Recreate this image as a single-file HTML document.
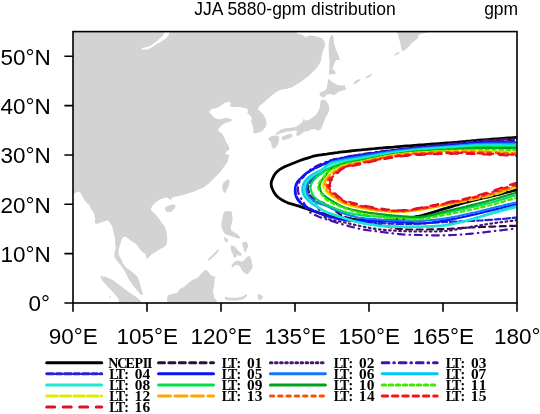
<!DOCTYPE html><html><head><meta charset="utf-8"><style>html,body{margin:0;padding:0;background:#fff;width:540px;height:414px;overflow:hidden}svg{display:block;will-change:transform}</style></head><body><svg width="540" height="414" viewBox="0 0 540 414"><rect width="540" height="414" fill="#fff"/><g clip-path="url(#mapclip)"><clipPath id="mapclip"><rect x="73.00" y="31.60" width="444.00" height="271.40"/></clipPath><path fill="#d3d3d3" d="M70.0 28.0L296.3 28.0L296.3 32.4L298.5 33.9L302.2 34.7L303.7 36.1L305.9 37.6L307.4 36.1L310.4 35.4L314.8 36.1L318.5 36.9L322.2 38.4L324.4 41.3L325.2 45.0L323.7 48.7L322.2 53.2L321.5 57.6L320.7 62.1L318.6 65.5L316.3 68.5L312.8 72.0L308.0 76.4L303.5 79.8L300.2 82.2L292.6 86.9L286.7 89.1L280.7 89.8L276.3 92.0L271.5 95.7L267.0 99.8L262.5 103.5L259.3 106.1L257.8 109.1L260.7 112.0L263.7 115.0L265.9 119.4L266.7 123.9L265.2 127.6L262.2 131.3L257.8 132.8L253.3 133.5L253.3 126.9L251.9 123.9L251.1 120.9L251.9 118.0L249.6 115.0L247.4 113.5L248.1 109.8L245.9 108.3L241.5 107.6L237.0 106.9L231.9 106.9L229.6 106.1L231.1 103.1L228.9 101.7L225.2 102.4L220.7 106.1L216.3 108.3L211.9 109.1L209.6 111.3L208.9 112.0L214.8 118.0L219.3 119.4L225.2 118.0L230.4 118.7L232.6 120.2L229.6 121.7L225.2 123.1L220.7 126.1L217.8 130.3L222.2 133.7L224.4 137.4L225.9 141.9L228.1 144.8L229.6 149.3L225.9 152.2L225.2 153.7L229.6 155.2L228.1 158.9L227.4 162.6L224.4 166.3L220.7 171.5L216.3 175.9L211.9 180.4L207.4 184.8L203.0 187.8L198.9 189.6L193.0 191.9L188.5 193.3L184.1 194.8L178.1 196.3L173.7 197.0L171.5 198.5L170.7 200.0L172.2 201.5L173.7 202.2L169.3 199.3L167.8 197.8L164.8 197.8L160.4 199.3L155.9 202.2L152.2 205.9L150.7 209.6L153.0 211.9L155.9 214.8L158.9 218.5L161.9 223.0L164.6 225.9L166.6 231.9L167.3 237.8L166.9 243.7L164.6 246.7L160.2 248.9L155.7 251.9L152.0 254.1L149.1 257.0L146.9 259.3L145.4 254.1L142.4 251.9L139.4 248.9L138.0 245.9L135.7 243.7L132.0 241.5L129.1 239.3L126.1 237.0L123.1 237.0L121.7 239.3L120.2 244.4L118.7 249.6L118.7 254.8L120.9 258.5L123.0 263.5L126.0 267.4L130.0 270.2L134.0 273.5L137.5 276.5L139.2 281.0L141.2 288.2L143.2 295.2L140.2 294.2L136.2 289.2L132.1 284.2L128.1 278.1L125.1 272.1L122.1 267.1L117.1 261.1L114.3 257.0L114.3 254.1L115.7 248.1L115.0 243.7L115.0 237.8L113.5 231.9L112.0 225.9L110.0 223.3L108.5 220.4L105.6 221.1L101.1 222.6L96.7 224.1L94.4 222.6L95.2 218.9L94.4 214.4L93.0 211.5L90.7 208.5L89.3 204.8L87.0 203.3L84.1 199.6L81.9 195.2L79.6 191.5L76.7 192.2L73.7 193.7L70.0 194.0ZM331.1 35.4L332.6 34.7L333.6 36.9L334.1 42.8L335.6 48.7L338.5 55.4L340.0 59.9L336.3 59.9L334.8 62.1L333.3 66.5L332.2 68.3L334.4 70.6L336.1 73.3L333.3 74.4L331.1 73.9L329.4 75.6L328.9 72.8L329.4 68.3L329.6 62.1L328.9 54.7L328.6 47.3L328.9 41.3L330.1 36.9ZM396.5 28.0L397.2 32.4L398.7 36.9L400.2 42.8L401.7 50.2L403.9 51.0L408.3 47.3L412.0 42.8L415.7 39.9L418.0 38.4L418.7 34.7L423.1 33.2L428.3 32.4L430.0 28.0ZM328.3 78.9L330.0 80.0L333.3 82.8L337.8 85.0L342.2 85.6L344.4 85.0L345.6 87.8L346.7 88.9L344.4 90.0L341.1 91.1L337.8 92.2L335.6 94.4L333.3 95.0L330.0 93.9L326.7 94.4L324.4 97.2L322.2 97.2L320.0 95.6L319.4 93.3L321.7 91.7L325.0 90.6L326.7 88.3L327.2 85.0L327.8 81.1ZM320.6 101.1L322.2 99.4L325.0 100.0L326.7 101.7L328.3 104.0L329.5 108.9L328.2 113.0L325.5 117.5L323.8 122.0L322.5 126.0L320.8 129.5L318.0 130.8L314.7 129.0L311.5 129.6L308.2 130.9L305.0 131.6L302.4 132.9L300.5 134.8L297.9 136.1L295.9 134.8L297.2 131.6L295.3 130.3L292.0 130.9L288.1 131.6L284.3 132.2L280.4 133.5L277.1 134.8L275.2 134.2L277.1 132.2L281.0 129.6L285.6 128.3L290.7 127.7L295.9 127.0L299.2 124.4L302.4 121.9L303.7 118.6L305.0 120.6L308.9 119.9L312.8 117.3L316.0 114.7L318.0 111.5L319.9 107.6L320.0 105.0ZM281.9 137.0L284.8 135.6L289.3 134.1L292.2 134.6L292.8 136.0L291.5 137.2L289.3 138.5L286.3 139.3L283.3 140.2L281.6 139.3ZM268.1 138.7L270.0 136.8L271.9 136.1L275.0 135.6L277.0 135.4L279.0 136.5L279.3 138.5L278.8 141.0L278.2 143.5L276.5 146.8L274.5 148.5L272.8 148.4L271.9 146.8L271.3 143.9L270.5 141.5L269.0 140.3ZM222.2 186.3L223.5 182.5L225.9 180.4L228.5 178.9L229.6 181.5L229.0 185.0L227.5 188.5L224.8 193.3L222.6 190.4ZM164.8 208.1L167.8 205.9L172.2 204.4L175.9 205.2L174.4 208.9L170.7 211.9L166.3 211.9ZM224.0 211.6L227.5 211.0L231.7 211.5L232.4 215.9L232.6 220.0L231.6 224.0L230.8 227.5L231.3 230.4L234.0 232.2L237.5 234.0L240.5 237.4L239.0 238.8L235.0 237.6L231.2 236.2L229.0 235.2L226.0 234.6L224.0 233.0L222.4 229.5L221.3 226.0L221.4 222.5L222.4 219.0L223.0 215.0ZM223.9 237.2L227.2 238.3L228.3 241.7L225.6 242.2L224.4 240.0ZM242.8 242.2L246.7 241.7L248.3 246.1L246.7 249.4L245.6 252.8L243.9 250.6L243.3 247.2L242.2 243.9ZM230.6 245.6L234.4 246.1L237.2 249.4L240.6 252.8L242.2 255.0L240.0 256.1L237.2 255.0L235.6 257.8L233.3 256.7L232.8 253.9L231.1 250.6ZM207.4 259.8L211.9 255.4L217.8 249.4L218.9 248.9L218.5 251.7L213.3 256.9L208.9 260.6ZM231.7 265.0L234.4 261.7L238.3 260.6L241.7 261.7L244.4 260.0L247.2 256.7L249.4 255.6L251.1 258.9L252.2 263.9L252.8 267.2L250.6 270.6L248.9 272.8L247.2 274.4L244.4 272.8L241.7 270.6L240.6 267.2L238.9 265.6L236.1 265.0L233.3 266.7L231.7 268.3ZM166.7 306.0L167.4 295.4L171.9 293.9L177.8 292.4L179.3 289.4L184.4 286.5L189.6 282.0L192.6 279.8L197.0 278.3L199.3 276.1L203.0 271.7L205.9 269.4L208.9 272.4L211.1 275.4L215.6 276.9L214.5 279.5L214.3 284.6L212.8 290.9L214.3 297.6L216.8 300.8L217.0 306.0ZM100.1 276.1L106.1 277.1L113.1 280.2L121.1 286.2L129.1 292.2L135.2 296.2L140.2 300.2L143.0 306.0L120.1 306.0L118.1 298.2L113.1 292.2L107.1 286.2L102.1 280.2ZM225.0 296.5L229.4 297.8L236.9 297.8L242.8 296.5L246.5 294.0L247.0 296.0L243.0 299.5L236.9 300.5L229.4 300.5L225.0 299.5ZM258.3 293.5L260.6 295.0L263.5 296.5L261.3 299.4L258.3 300.2L257.6 296.5Z"/><path fill="#fff" d="M165.2 31.0L163.0 35.4L159.3 39.1L154.8 42.8L150.4 45.8L145.9 47.3L141.5 48.3L142.2 49.5L147.4 49.5L151.9 47.3L156.3 44.3L161.5 41.3L165.9 38.4L168.9 34.7L169.6 31.0Z"/><ellipse cx="397.0" cy="53.8" rx="3.2" ry="0.9" transform="rotate(-30 397.0 53.8)" fill="#d3d3d3"/><ellipse cx="357.2" cy="81.6" rx="4.2" ry="0.9" transform="rotate(-35 357.2 81.6)" fill="#d3d3d3"/><ellipse cx="368.9" cy="76.1" rx="3.8" ry="0.9" transform="rotate(-30 368.9 76.1)" fill="#d3d3d3"/><ellipse cx="356.6" cy="81.1" rx="2.5" ry="0.9" transform="rotate(-35 356.6 81.1)" fill="#d3d3d3"/><ellipse cx="110.1" cy="296.8" rx="0.9" ry="0.9" transform="rotate(0 110.1 296.8)" fill="#d3d3d3"/><path d="M524.0 136.8 521.3 137.0 518.7 137.2 516.0 137.4 513.3 137.6 510.6 137.8 508.0 138.0 505.3 138.2 502.6 138.4 500.0 138.6 497.3 138.8 494.6 139.0 492.0 139.2 489.3 139.4 486.6 139.6 483.9 139.8 481.3 140.0 478.6 140.2 475.9 140.5 473.3 140.7 470.6 141.0 467.9 141.2 465.3 141.5 462.6 141.7 459.9 141.9 457.3 142.2 454.6 142.4 451.9 142.6 449.3 142.8 446.6 143.0 443.9 143.2 441.3 143.4 438.6 143.6 435.9 143.8 433.2 144.0 430.6 144.2 427.9 144.4 425.2 144.6 422.6 144.8 419.9 145.0 417.2 145.2 414.5 145.4 411.9 145.6 409.2 145.8 406.5 146.0 403.9 146.2 401.2 146.4 398.5 146.6 395.9 146.8 393.2 147.1 390.5 147.3 387.9 147.5 385.2 147.7 382.5 148.0 379.9 148.2 377.2 148.4 374.5 148.7 371.8 148.9 369.2 149.1 366.5 149.4 363.8 149.6 361.2 149.9 358.5 150.1 355.9 150.4 353.2 150.7 350.5 151.0 347.9 151.3 345.2 151.6 342.5 151.9 339.9 152.2 337.2 152.6 334.6 152.9 331.9 153.3 329.3 153.7 326.6 154.1 324.0 154.4 321.3 154.8 318.7 155.2 316.0 155.7 313.4 156.2 310.9 157.0 308.3 157.8 305.7 158.6 303.2 159.4 300.7 160.3 298.2 161.3 295.7 162.3 293.2 163.3 290.7 164.3 288.2 165.2 285.8 166.3 283.3 167.4 281.0 168.7 278.8 170.2 276.8 171.9 275.0 174.0 273.6 176.3 272.5 178.7 271.5 181.2 271.1 183.8 271.5 186.5 272.4 189.0 273.5 191.4 274.8 193.7 276.5 195.8 278.5 197.6 280.7 199.1 283.0 200.5 285.4 201.7 287.8 202.8 290.4 203.6 293.0 204.3 295.5 205.1 298.1 205.9 300.6 206.7 303.2 207.6 305.7 208.4 308.2 209.3 310.8 210.1 313.3 211.0 315.9 211.8 318.4 212.6 321.0 213.3 323.6 213.9 326.2 214.6 328.8 215.1 331.4 215.7 334.1 216.3 336.7 216.9 339.3 217.4 341.9 217.9 344.6 218.3 347.2 218.7 349.9 219.0 352.6 219.3 355.2 219.6 357.9 219.8 360.6 220.0 363.2 220.2 365.9 220.4 368.6 220.5 371.3 220.6 373.9 220.6 376.6 220.6 379.3 220.6 382.0 220.6 384.6 220.4 387.3 220.3 390.0 220.1 392.7 219.9 395.3 219.7 398.0 219.4 400.6 219.1 403.3 218.8 406.0 218.4 408.6 218.1 411.3 217.6 413.9 217.2 416.5 216.6 419.1 216.1 421.7 215.5 424.3 214.8 426.9 214.1 429.5 213.4 432.1 212.6 434.6 211.8 437.2 211.0 439.7 210.2 442.3 209.4 444.8 208.6 447.4 207.9 450.0 207.1 452.5 206.3 455.1 205.5 457.7 204.8 460.2 204.0 462.8 203.2 465.4 202.5 467.9 201.8 470.5 201.1 473.1 200.4 475.7 199.8 478.3 199.2 480.9 198.6 483.6 198.0 486.2 197.4 488.8 196.8 491.4 196.2 494.0 195.6 496.6 195.0 499.2 194.3 501.8 193.6 504.4 192.9 507.0 192.2 509.5 191.6 512.1 190.9 514.7 190.3 517.4 189.7 520.0 189.3 522.7 189.0" fill="none" stroke="#000000" stroke-width="2.8" stroke-linejoin="round" stroke-linecap="round"/><path d="M524.0 139.4 521.7 139.6 519.4 139.7 517.1 139.8 514.8 140.0 512.5 140.1 510.2 140.2 507.8 140.3 505.5 140.5 503.2 140.6 500.9 140.7 498.6 140.8 496.3 141.0 494.0 141.1 491.7 141.2 489.4 141.4 487.1 141.5 484.8 141.7 482.5 141.8 480.2 142.0 477.9 142.2 475.6 142.4 473.3 142.5 471.0 142.8 468.7 143.0 466.4 143.2 464.1 143.4 461.8 143.6 459.5 143.9 457.2 144.1 454.8 144.3 452.5 144.5 450.2 144.7 447.9 144.9 445.6 145.2 443.3 145.4 441.0 145.6 438.7 145.8 436.4 146.0 434.1 146.2 431.8 146.4 429.5 146.7 427.2 146.9 424.9 147.1 422.6 147.3 420.3 147.5 418.0 147.8 415.7 148.0 413.4 148.2 411.1 148.5 408.8 148.7 406.5 149.0 404.2 149.2 401.9 149.5 399.7 149.7 397.4 150.0 395.1 150.3 392.8 150.6 390.5 150.9 388.2 151.2 385.9 151.5 383.6 151.8 381.3 152.1 379.0 152.4 376.7 152.7 374.4 153.0 372.2 153.4 369.9 153.7 367.6 154.0 365.3 154.4 363.0 154.7 360.7 155.1 358.4 155.4 356.2 155.8 353.9 156.2 351.6 156.6 349.3 157.0 347.1 157.4 344.8 157.8 342.5 158.3 340.2 158.7 338.0 159.0 335.7 159.3 333.4 159.7 331.2 160.5 329.3 161.8 327.8 163.5 326.6 165.5 325.5 167.5 324.4 169.6 323.1 171.4 321.2 172.9 319.2 174.0 317.4 175.3 315.5 176.7 313.7 178.2 312.1 179.8 310.5 181.5 309.0 183.2 308.0 185.3 307.8 187.6 308.1 189.9 308.7 192.2 309.5 194.3 310.7 196.3 312.4 197.9 314.3 199.2 316.4 200.2 318.5 201.1 320.6 202.0 322.8 202.8 324.9 203.7 327.0 204.8 328.9 206.1 330.7 207.4 332.6 208.9 334.4 210.3 336.2 211.7 338.1 213.0 340.0 214.3 342.0 215.4 344.1 216.4 346.3 217.2 348.5 217.9 350.8 218.4 353.0 219.0 355.3 219.4 357.5 219.9 359.8 220.4 362.0 221.0 364.3 221.5 366.5 222.1 368.8 222.6 371.0 223.1 373.3 223.6 375.5 224.0 377.8 224.5 380.1 225.0 382.3 225.5 384.6 226.0 386.8 226.5 389.1 227.0 391.3 227.5 393.6 228.0 395.9 228.4 398.2 228.8 400.5 229.0 402.8 229.2 405.1 229.4 407.4 229.5 409.7 229.5 412.0 229.5 414.3 229.5 416.6 229.5 418.9 229.5 421.2 229.5 423.6 229.5 425.9 229.5 428.2 229.5 430.5 229.4 432.8 229.4 435.1 229.3 437.4 229.3 439.7 229.2 442.0 229.1 444.3 229.0 446.7 228.9 449.0 228.8 451.3 228.7 453.6 228.5 455.9 228.4 458.2 228.2 460.5 228.1 462.8 227.9 465.1 227.8 467.4 227.6 469.7 227.5 472.0 227.4 474.3 227.3 476.6 227.2 479.0 227.1 481.3 227.0 483.6 226.9 485.9 226.8 488.2 226.7 490.5 226.7 492.8 226.6 495.1 226.5 497.4 226.4 499.7 226.3 502.1 226.2 504.4 226.2 506.7 226.1 509.0 226.0 511.3 225.9 513.6 225.9 515.9 225.8 518.2 225.7 520.5 225.7 522.8 225.7" fill="none" stroke="#2e0c40" stroke-width="2.2" stroke-linejoin="round" stroke-linecap="round" stroke-dasharray="6.0 4.4"/><path d="M524.0 138.8 521.7 139.0 519.3 139.1 517.0 139.2 514.6 139.4 512.3 139.5 510.0 139.6 507.6 139.8 505.3 139.9 503.0 140.0 500.6 140.2 498.3 140.3 495.9 140.4 493.6 140.6 491.3 140.7 488.9 140.9 486.6 141.0 484.2 141.2 481.9 141.4 479.6 141.5 477.2 141.7 474.9 141.9 472.6 142.1 470.2 142.4 467.9 142.6 465.6 142.8 463.2 143.1 460.9 143.3 458.6 143.5 456.3 143.8 453.9 144.0 451.6 144.2 449.3 144.4 446.9 144.7 444.6 144.9 442.3 145.1 439.9 145.3 437.6 145.5 435.3 145.8 432.9 146.0 430.6 146.2 428.3 146.4 425.9 146.7 423.6 146.9 421.3 147.1 418.9 147.4 416.6 147.6 414.3 147.8 412.0 148.1 409.6 148.3 407.3 148.6 405.0 148.8 402.6 149.1 400.3 149.4 398.0 149.6 395.7 149.9 393.3 150.2 391.0 150.5 388.7 150.8 386.4 151.1 384.0 151.4 381.7 151.7 379.4 152.0 377.1 152.3 374.7 152.6 372.4 153.0 370.1 153.3 367.8 153.6 365.5 154.0 363.2 154.3 360.8 154.7 358.5 155.0 356.2 155.4 353.9 155.8 351.6 156.2 349.3 156.6 347.0 157.1 344.7 157.5 342.4 158.0 340.1 158.4 337.8 158.7 335.4 159.0 333.2 159.5 331.0 160.3 329.1 161.7 327.7 163.6 326.5 165.6 325.5 167.7 324.4 169.8 323.1 171.7 321.3 173.2 319.2 174.3 317.3 175.7 315.5 177.1 313.7 178.6 312.0 180.2 310.4 181.9 308.9 183.8 308.3 186.0 308.2 188.3 308.5 190.7 309.0 193.0 309.8 195.2 310.9 197.2 312.2 199.2 313.6 201.0 314.9 202.9 316.2 204.9 317.4 206.9 318.7 208.9 320.0 210.8 321.3 212.8 322.6 214.7 324.1 216.5 326.0 218.0 328.1 219.0 330.3 219.7 332.6 220.3 334.9 220.7 337.2 221.0 339.5 221.4 341.8 221.8 344.1 222.3 346.4 222.9 348.6 223.4 350.9 224.0 353.2 224.5 355.5 225.0 357.8 225.5 360.1 226.0 362.4 226.5 364.7 226.9 367.0 227.4 369.3 227.8 371.6 228.2 373.9 228.6 376.2 229.0 378.5 229.3 380.8 229.6 383.2 229.9 385.5 230.1 387.8 230.3 390.2 230.4 392.5 230.6 394.8 230.7 397.2 230.9 399.5 231.0 401.9 231.1 404.2 231.2 406.5 231.3 408.9 231.3 411.2 231.4 413.6 231.4 415.9 231.5 418.2 231.5 420.6 231.5 422.9 231.5 425.3 231.5 427.6 231.5 430.0 231.5 432.3 231.5 434.6 231.5 437.0 231.5 439.3 231.4 441.7 231.2 444.0 231.1 446.3 230.9 448.7 230.6 451.0 230.3 453.3 229.9 455.6 229.5 457.9 229.1 460.2 228.7 462.5 228.3 464.8 227.9 467.1 227.5 469.5 227.1 471.8 226.7 474.1 226.3 476.4 226.0 478.7 225.6 481.0 225.2 483.3 224.8 485.6 224.4 488.0 224.1 490.3 223.7 492.6 223.4 494.9 223.0 497.2 222.7 499.5 222.4 501.9 222.1 504.2 221.8 506.5 221.5 508.8 221.2 511.2 220.9 513.5 220.7 515.8 220.4 518.2 220.2 520.5 220.0 522.8 219.9" fill="none" stroke="#4a1470" stroke-width="2.2" stroke-linejoin="round" stroke-linecap="round" stroke-dasharray="1.6 3.5"/><path d="M524.0 138.1 521.6 138.2 519.1 138.4 516.7 138.6 514.3 138.7 511.9 138.9 509.4 139.0 507.0 139.2 504.6 139.3 502.1 139.5 499.7 139.6 497.3 139.8 494.9 139.9 492.4 140.1 490.0 140.3 487.6 140.4 485.1 140.6 482.7 140.8 480.3 141.0 477.9 141.2 475.4 141.4 473.0 141.6 470.6 141.9 468.2 142.1 465.7 142.4 463.3 142.6 460.9 142.9 458.5 143.1 456.1 143.4 453.6 143.6 451.2 143.9 448.8 144.1 446.4 144.3 443.9 144.6 441.5 144.8 439.1 145.0 436.7 145.3 434.3 145.5 431.8 145.8 429.4 146.0 427.0 146.2 424.6 146.5 422.1 146.7 419.7 147.0 417.3 147.2 414.9 147.5 412.5 147.7 410.0 148.0 407.6 148.2 405.2 148.5 402.8 148.8 400.4 149.1 397.9 149.3 395.5 149.6 393.1 149.9 390.7 150.2 388.3 150.5 385.9 150.8 383.5 151.2 381.0 151.5 378.6 151.8 376.2 152.1 373.8 152.5 371.4 152.8 369.0 153.1 366.6 153.5 364.2 153.9 361.8 154.2 359.4 154.6 357.0 155.0 354.6 155.4 352.2 155.8 349.8 156.2 347.4 156.7 345.0 157.2 342.6 157.7 340.2 158.2 337.8 158.6 335.5 159.2 333.1 159.7 330.7 160.4 328.4 161.1 326.1 161.9 323.9 162.8 321.6 163.8 319.4 164.8 317.2 165.8 315.0 166.8 312.8 168.0 310.8 169.3 308.9 170.8 307.1 172.4 305.5 174.3 304.0 176.2 302.4 178.1 300.9 180.0 299.5 181.9 298.5 184.1 298.0 186.5 297.9 189.0 298.1 191.4 298.6 193.8 299.5 196.0 300.8 198.0 302.3 200.0 303.5 202.1 304.6 204.2 305.6 206.5 306.5 208.7 307.8 210.8 309.8 212.2 311.9 213.4 314.0 214.6 316.2 215.6 318.4 216.6 320.7 217.5 323.0 218.3 325.3 219.1 327.6 219.8 330.0 220.6 332.3 221.3 334.6 222.0 336.9 222.7 339.3 223.4 341.6 224.1 344.0 224.7 346.3 225.4 348.6 226.1 351.0 226.7 353.3 227.3 355.7 227.9 358.1 228.5 360.4 229.0 362.8 229.4 365.2 229.8 367.7 230.2 370.1 230.5 372.5 230.8 374.9 231.1 377.3 231.4 379.7 231.7 382.1 232.0 384.6 232.3 387.0 232.7 389.4 233.0 391.8 233.3 394.2 233.6 396.6 233.9 399.0 234.1 401.5 234.3 403.9 234.5 406.3 234.6 408.8 234.7 411.2 234.8 413.6 234.8 416.1 234.9 418.5 235.0 420.9 235.0 423.4 235.1 425.8 235.2 428.2 235.2 430.7 235.3 433.1 235.3 435.5 235.3 438.0 235.4 440.4 235.4 442.8 235.3 445.3 235.3 447.7 235.2 450.1 235.1 452.6 235.0 455.0 234.9 457.4 234.7 459.9 234.6 462.3 234.4 464.7 234.2 467.1 234.0 469.6 233.8 472.0 233.6 474.4 233.4 476.8 233.1 479.2 232.9 481.7 232.6 484.1 232.3 486.5 232.0 488.9 231.7 491.3 231.4 493.8 231.1 496.2 230.9 498.6 230.6 501.0 230.3 503.4 230.0 505.8 229.7 508.2 229.4 510.7 229.1 513.1 228.8 515.5 228.5 517.9 228.3 520.4 228.2 522.8 228.0" fill="none" stroke="#4b10a8" stroke-width="2.2" stroke-linejoin="round" stroke-linecap="round" stroke-dasharray="6.7 4.9 0.6 4.9"/><path d="M524.0 141.6 521.6 141.7 519.2 141.7 516.7 141.8 514.3 141.8 511.9 141.9 509.5 141.9 507.0 141.9 504.6 142.0 502.2 142.0 499.8 142.0 497.3 142.1 494.9 142.1 492.5 142.2 490.1 142.2 487.6 142.3 485.2 142.4 482.8 142.5 480.4 142.6 477.9 142.7 475.5 142.9 473.1 143.0 470.7 143.2 468.3 143.5 465.9 143.7 463.4 143.9 461.0 144.1 458.6 144.4 456.2 144.6 453.8 144.8 451.4 145.0 449.0 145.2 446.5 145.4 444.1 145.6 441.7 145.9 439.3 146.1 436.9 146.3 434.5 146.5 432.1 146.7 429.6 147.0 427.2 147.2 424.8 147.4 422.4 147.6 420.0 147.9 417.6 148.1 415.2 148.4 412.7 148.6 410.3 148.9 407.9 149.1 405.5 149.4 403.1 149.6 400.7 149.9 398.3 150.2 395.9 150.5 393.5 150.8 391.1 151.1 388.7 151.4 386.3 151.8 383.9 152.1 381.5 152.4 379.1 152.8 376.7 153.1 374.3 153.4 371.9 153.8 369.5 154.2 367.1 154.5 364.7 154.9 362.3 155.2 359.9 155.6 357.5 156.0 355.1 156.4 352.7 156.8 350.3 157.2 347.9 157.6 345.5 158.0 343.1 158.5 340.8 158.9 338.4 159.4 336.0 159.9 333.6 160.4 331.3 161.1 329.0 161.9 326.8 162.8 324.6 163.9 322.4 165.0 320.3 166.1 318.1 167.1 315.9 168.2 313.7 169.2 311.6 170.3 309.5 171.5 307.5 172.9 305.6 174.4 303.7 176.0 302.0 177.7 300.3 179.5 298.6 181.2 297.3 183.2 296.4 185.4 295.8 187.8 295.6 190.2 295.7 192.6 296.2 195.0 297.1 197.2 298.3 199.3 299.8 201.2 301.5 203.0 303.4 204.5 305.4 205.9 307.4 207.2 309.5 208.4 311.6 209.6 313.8 210.7 315.9 211.8 318.1 212.8 320.3 213.8 322.6 214.8 324.8 215.6 327.2 216.3 329.5 217.0 331.8 217.6 334.2 218.1 336.6 218.6 339.0 219.1 341.3 219.6 343.7 219.9 346.1 220.3 348.5 220.5 351.0 220.8 353.4 221.0 355.8 221.2 358.2 221.4 360.6 221.6 363.0 221.8 365.5 222.0 367.9 222.1 370.3 222.3 372.7 222.5 375.1 222.7 377.5 222.8 380.0 223.0 382.4 223.2 384.8 223.3 387.2 223.5 389.6 223.6 392.1 223.7 394.5 223.8 396.9 223.9 399.3 224.0 401.8 224.0 404.2 224.0 406.6 224.0 409.0 223.9 411.5 223.8 413.9 223.8 416.3 223.7 418.7 223.6 421.1 223.4 423.6 223.3 426.0 223.2 428.4 223.0 430.8 222.9 433.2 222.7 435.7 222.6 438.1 222.4 440.5 222.3 442.9 222.1 445.4 222.0 447.8 221.9 450.2 221.8 452.6 221.7 455.0 221.6 457.5 221.5 459.9 221.4 462.3 221.3 464.7 221.2 467.2 221.1 469.6 221.0 472.0 220.9 474.4 220.8 476.8 220.6 479.3 220.5 481.7 220.4 484.1 220.2 486.5 220.1 488.9 219.9 491.4 219.8 493.8 219.6 496.2 219.4 498.6 219.2 501.0 219.0 503.4 218.8 505.9 218.6 508.3 218.3 510.7 218.1 513.1 217.9 515.5 217.7 517.9 217.6 520.4 217.5 522.8 217.4" fill="none" stroke="#2a22d8" stroke-width="2.2" stroke-linejoin="round" stroke-linecap="round" stroke-dasharray="6.8 2.8 5.4 2.8"/><path d="M524.0 142.7 521.6 142.8 519.1 142.8 516.7 142.8 514.2 142.8 511.8 142.8 509.4 142.8 506.9 142.8 504.5 142.8 502.0 142.8 499.6 142.8 497.1 142.8 494.7 142.8 492.3 142.8 489.8 142.9 487.4 142.9 484.9 142.9 482.5 143.0 480.1 143.1 477.6 143.2 475.2 143.4 472.7 143.5 470.3 143.7 467.9 143.9 465.4 144.2 463.0 144.4 460.6 144.6 458.2 144.8 455.7 145.0 453.3 145.2 450.9 145.4 448.4 145.6 446.0 145.8 443.6 145.9 441.1 146.1 438.7 146.3 436.2 146.5 433.8 146.7 431.4 146.9 428.9 147.1 426.5 147.3 424.1 147.5 421.6 147.7 419.2 147.9 416.8 148.1 414.3 148.3 411.9 148.5 409.5 148.7 407.1 149.0 404.6 149.2 402.2 149.5 399.8 149.7 397.3 150.0 394.9 150.3 392.5 150.6 390.1 150.9 387.7 151.2 385.2 151.5 382.8 151.8 380.4 152.2 378.0 152.5 375.6 152.9 373.1 153.2 370.7 153.6 368.3 153.9 365.9 154.3 363.5 154.7 361.1 155.0 358.7 155.4 356.3 155.8 353.8 156.2 351.4 156.6 349.0 157.0 346.6 157.5 344.2 157.9 341.8 158.4 339.4 158.9 337.1 159.4 334.7 159.9 332.3 160.5 330.0 161.2 327.7 162.1 325.5 163.1 323.3 164.1 321.1 165.2 318.9 166.2 316.6 167.3 314.4 168.3 312.2 169.4 310.1 170.5 308.0 171.9 306.0 173.3 304.1 174.8 302.3 176.5 300.7 178.2 298.9 179.9 297.2 181.7 296.1 183.9 295.4 186.2 295.0 188.6 294.9 191.0 295.1 193.5 295.7 195.8 296.6 198.1 297.9 200.2 299.4 202.1 301.2 203.7 303.2 205.1 305.3 206.4 307.4 207.6 309.5 208.8 311.7 209.8 313.9 210.9 316.2 211.9 318.4 212.8 320.7 213.6 323.0 214.4 325.4 215.1 327.7 215.8 330.1 216.5 332.4 217.2 334.8 217.8 337.1 218.4 339.5 219.0 341.9 219.4 344.3 219.8 346.7 220.1 349.2 220.3 351.6 220.5 354.0 220.6 356.5 220.7 358.9 220.8 361.4 220.9 363.8 220.9 366.2 221.0 368.7 221.1 371.1 221.1 373.6 221.2 376.0 221.2 378.5 221.3 380.9 221.3 383.3 221.4 385.8 221.5 388.2 221.5 390.7 221.6 393.1 221.7 395.5 221.8 398.0 221.9 400.4 222.0 402.8 222.2 405.3 222.4 407.7 222.7 410.1 223.0 412.6 223.2 415.0 223.4 417.4 223.5 419.9 223.5 422.3 223.4 424.8 223.3 427.2 223.0 429.6 222.8 432.0 222.5 434.5 222.1 436.9 221.8 439.3 221.4 441.7 221.0 444.1 220.6 446.5 220.2 448.9 219.8 451.3 219.4 453.7 218.9 456.1 218.5 458.5 218.0 460.9 217.5 463.3 217.0 465.7 216.5 468.1 215.9 470.4 215.4 472.8 214.9 475.2 214.3 477.6 213.8 479.9 213.2 482.3 212.6 484.7 212.0 487.1 211.4 489.4 210.9 491.8 210.3 494.2 209.7 496.5 209.1 498.9 208.5 501.3 208.0 503.7 207.4 506.0 206.8 508.4 206.2 510.8 205.6 513.2 205.1 515.5 204.6 517.9 204.2 520.4 203.8 522.8 203.5" fill="none" stroke="#0a14f5" stroke-width="2.2" stroke-linejoin="round" stroke-linecap="round"/><path d="M524.0 143.5 521.7 143.6 519.4 143.6 517.1 143.6 514.7 143.6 512.4 143.6 510.1 143.6 507.8 143.6 505.5 143.6 503.2 143.6 500.8 143.6 498.5 143.6 496.2 143.6 493.9 143.6 491.6 143.7 489.3 143.7 486.9 143.7 484.6 143.8 482.3 143.8 480.0 143.9 477.7 144.0 475.4 144.1 473.1 144.3 470.7 144.4 468.4 144.6 466.1 144.8 463.8 145.0 461.5 145.2 459.2 145.4 456.9 145.6 454.6 145.8 452.3 146.0 450.0 146.1 447.7 146.3 445.3 146.5 443.0 146.7 440.7 146.8 438.4 147.0 436.1 147.2 433.8 147.4 431.5 147.6 429.2 147.7 426.9 147.9 424.6 148.1 422.3 148.3 419.9 148.5 417.6 148.7 415.3 148.9 413.0 149.1 410.7 149.4 408.4 149.6 406.1 149.8 403.8 150.1 401.5 150.3 399.2 150.6 396.9 150.9 394.6 151.2 392.3 151.5 390.0 151.8 387.7 152.1 385.4 152.5 383.1 152.8 380.9 153.2 378.6 153.6 376.3 153.9 374.0 154.3 371.7 154.7 369.4 155.0 367.1 155.4 364.9 155.8 362.6 156.2 360.3 156.6 358.0 156.9 355.7 157.3 353.4 157.6 351.1 158.0 348.8 158.4 346.6 158.8 344.3 159.2 342.0 159.7 339.7 160.1 337.5 160.5 335.2 161.0 333.0 161.6 330.8 162.5 328.9 163.7 327.2 165.3 325.8 167.1 324.4 169.0 322.8 170.7 321.0 172.1 318.9 173.2 317.0 174.5 315.1 175.7 313.2 177.1 311.5 178.6 309.8 180.3 308.5 182.1 307.4 184.2 306.7 186.4 306.3 188.7 306.4 191.0 307.0 193.3 308.0 195.4 309.4 197.2 311.1 198.7 313.1 200.0 315.0 201.2 317.0 202.4 319.1 203.4 321.3 204.1 323.5 204.8 325.7 205.6 327.8 206.5 329.9 207.4 332.0 208.4 334.1 209.4 336.2 210.4 338.4 211.3 340.5 212.2 342.7 213.0 344.8 213.8 347.0 214.5 349.3 215.2 351.5 215.9 353.7 216.4 356.0 217.0 358.2 217.5 360.5 217.9 362.8 218.2 365.1 218.5 367.4 218.8 369.7 218.9 372.0 219.1 374.3 219.2 376.7 219.4 379.0 219.5 381.3 219.7 383.6 219.8 385.9 220.0 388.2 220.1 390.5 220.2 392.8 220.3 395.2 220.4 397.5 220.5 399.8 220.6 402.1 220.7 404.4 220.8 406.7 220.9 409.0 221.0 411.4 221.0 413.7 221.1 416.0 221.1 418.3 221.1 420.6 221.0 422.9 220.9 425.2 220.7 427.6 220.5 429.9 220.3 432.2 220.1 434.5 219.9 436.8 219.6 439.1 219.3 441.4 219.0 443.7 218.7 446.0 218.4 448.2 218.0 450.5 217.6 452.8 217.2 455.1 216.7 457.3 216.3 459.6 215.8 461.9 215.3 464.1 214.8 466.4 214.3 468.7 213.8 470.9 213.3 473.2 212.8 475.4 212.3 477.7 211.7 479.9 211.2 482.2 210.6 484.4 210.1 486.7 209.5 488.9 209.0 491.2 208.4 493.4 207.9 495.7 207.3 497.9 206.8 500.2 206.2 502.4 205.7 504.7 205.1 506.9 204.6 509.2 204.0 511.4 203.5 513.7 203.0 516.0 202.5 518.3 202.1 520.6 201.8 522.9 201.5" fill="none" stroke="#1478ff" stroke-width="2.2" stroke-linejoin="round" stroke-linecap="round"/><path d="M524.0 144.6 521.6 144.6 519.3 144.6 516.9 144.6 514.5 144.6 512.2 144.6 509.8 144.6 507.4 144.6 505.1 144.6 502.7 144.6 500.4 144.6 498.0 144.6 495.6 144.6 493.3 144.6 490.9 144.6 488.5 144.6 486.2 144.7 483.8 144.7 481.4 144.8 479.1 144.8 476.7 144.9 474.3 145.1 472.0 145.2 469.6 145.3 467.3 145.5 464.9 145.7 462.6 145.9 460.2 146.1 457.8 146.2 455.5 146.4 453.1 146.6 450.8 146.8 448.4 146.9 446.0 147.1 443.7 147.3 441.3 147.4 439.0 147.6 436.6 147.8 434.3 148.0 431.9 148.2 429.5 148.3 427.2 148.5 424.8 148.7 422.5 148.9 420.1 149.1 417.8 149.3 415.4 149.6 413.1 149.8 410.7 150.0 408.3 150.3 406.0 150.5 403.6 150.8 401.3 151.0 398.9 151.3 396.6 151.7 394.3 152.0 391.9 152.3 389.6 152.7 387.2 153.0 384.9 153.4 382.6 153.8 380.3 154.2 377.9 154.6 375.6 155.0 373.3 155.5 370.9 155.9 368.6 156.3 366.3 156.7 364.0 157.1 361.6 157.5 359.3 157.9 357.0 158.3 354.6 158.7 352.3 159.1 350.0 159.4 347.6 159.8 345.3 160.2 343.0 160.7 340.7 161.1 338.3 161.5 336.0 162.0 333.7 162.5 331.4 163.1 329.2 164.1 327.2 165.3 325.4 166.8 323.5 168.2 321.6 169.6 319.5 170.7 317.3 171.7 315.3 172.8 313.2 174.0 311.3 175.3 309.4 176.7 307.5 178.2 305.9 179.9 304.5 181.8 303.4 183.9 302.7 186.2 302.3 188.5 302.4 190.9 303.0 193.2 303.9 195.3 305.3 197.3 306.8 199.1 308.4 200.8 310.2 202.4 312.1 203.8 314.0 205.1 316.0 206.4 318.1 207.6 320.1 208.7 322.2 209.9 324.3 210.9 326.5 211.9 328.7 212.8 330.9 213.6 333.1 214.4 335.4 215.1 337.6 215.8 339.9 216.6 342.1 217.3 344.4 218.0 346.6 218.7 348.9 219.4 351.2 220.0 353.4 220.7 355.7 221.3 358.0 221.8 360.3 222.4 362.6 222.9 365.0 223.3 367.3 223.8 369.6 224.2 371.9 224.5 374.3 224.9 376.6 225.2 379.0 225.5 381.3 225.7 383.7 225.9 386.0 226.1 388.4 226.2 390.8 226.3 393.1 226.3 395.5 226.4 397.9 226.5 400.2 226.5 402.6 226.6 405.0 226.6 407.3 226.7 409.7 226.7 412.0 226.7 414.4 226.7 416.8 226.7 419.1 226.6 421.5 226.6 423.9 226.5 426.2 226.4 428.6 226.3 431.0 226.2 433.3 226.1 435.7 225.9 438.0 225.8 440.4 225.5 442.7 225.3 445.1 225.0 447.4 224.6 449.8 224.2 452.1 223.8 454.4 223.3 456.7 222.8 459.0 222.3 461.3 221.7 463.6 221.1 465.9 220.6 468.2 220.0 470.5 219.4 472.8 218.8 475.0 218.1 477.3 217.4 479.6 216.8 481.8 216.1 484.1 215.4 486.3 214.7 488.6 214.0 490.9 213.3 493.1 212.6 495.4 211.9 497.6 211.2 499.9 210.5 502.2 209.9 504.4 209.2 506.7 208.5 509.0 207.9 511.3 207.2 513.5 206.6 515.8 206.0 518.2 205.6 520.5 205.2 522.8 204.8" fill="none" stroke="#00c8f5" stroke-width="2.2" stroke-linejoin="round" stroke-linecap="round"/><path d="M524.0 145.6 521.7 145.6 519.3 145.6 517.0 145.6 514.6 145.6 512.3 145.6 509.9 145.5 507.6 145.5 505.2 145.5 502.9 145.5 500.5 145.4 498.2 145.4 495.8 145.4 493.5 145.4 491.1 145.4 488.8 145.4 486.5 145.4 484.1 145.4 481.8 145.5 479.4 145.5 477.1 145.6 474.7 145.7 472.4 145.8 470.0 146.0 467.7 146.1 465.4 146.3 463.0 146.5 460.7 146.6 458.3 146.8 456.0 147.0 453.7 147.1 451.3 147.3 449.0 147.5 446.6 147.6 444.3 147.8 442.0 148.0 439.6 148.2 437.3 148.3 434.9 148.5 432.6 148.7 430.3 148.9 427.9 149.1 425.6 149.2 423.2 149.4 420.9 149.6 418.6 149.8 416.2 150.1 413.9 150.3 411.6 150.5 409.2 150.8 406.9 151.0 404.6 151.3 402.2 151.5 399.9 151.8 397.6 152.1 395.2 152.5 392.9 152.8 390.6 153.2 388.3 153.5 386.0 153.9 383.7 154.3 381.4 154.7 379.0 155.1 376.7 155.6 374.4 156.0 372.1 156.4 369.8 156.9 367.5 157.3 365.2 157.7 362.9 158.1 360.6 158.5 358.3 158.9 355.9 159.2 353.6 159.6 351.3 159.9 349.0 160.3 346.7 160.6 344.3 161.0 342.0 161.5 339.7 161.9 337.4 162.4 335.1 162.8 332.9 163.4 330.7 164.2 328.6 165.3 326.7 166.6 324.8 168.1 323.0 169.6 321.0 170.9 319.0 171.9 316.9 173.1 314.9 174.3 313.0 175.7 311.2 177.2 309.3 178.6 307.7 180.3 306.3 182.2 305.3 184.3 304.4 186.5 304.0 188.8 304.2 191.1 304.8 193.4 305.8 195.5 307.2 197.4 308.7 199.2 310.4 200.9 312.2 202.4 314.0 203.8 315.9 205.2 317.7 206.7 319.6 208.1 321.5 209.4 323.5 210.8 325.5 211.9 327.6 212.9 329.8 213.7 332.0 214.5 334.3 215.2 336.5 215.9 338.8 216.6 341.0 217.3 343.3 217.9 345.5 218.6 347.7 219.4 350.0 220.1 352.2 220.7 354.5 221.4 356.7 222.0 359.0 222.6 361.3 223.1 363.6 223.6 365.9 224.0 368.2 224.4 370.5 224.8 372.8 225.2 375.2 225.5 377.5 225.8 379.8 226.1 382.2 226.3 384.5 226.5 386.8 226.6 389.2 226.7 391.5 226.8 393.9 226.9 396.2 226.9 398.6 227.0 400.9 227.0 403.3 227.1 405.6 227.1 408.0 227.2 410.3 227.2 412.7 227.2 415.0 227.2 417.3 227.2 419.7 227.1 422.0 227.0 424.4 227.0 426.7 226.9 429.1 226.8 431.4 226.7 433.8 226.6 436.1 226.5 438.4 226.3 440.8 226.1 443.1 225.8 445.4 225.5 447.8 225.2 450.1 224.8 452.4 224.3 454.7 223.8 457.0 223.3 459.2 222.7 461.5 222.2 463.8 221.6 466.1 221.0 468.3 220.4 470.6 219.8 472.9 219.2 475.1 218.6 477.4 218.0 479.6 217.3 481.9 216.6 484.1 216.0 486.4 215.3 488.6 214.6 490.9 214.0 493.1 213.3 495.4 212.7 497.7 212.1 499.9 211.5 502.2 210.9 504.5 210.3 506.7 209.7 509.0 209.1 511.3 208.5 513.6 208.0 515.9 207.5 518.2 207.1 520.5 206.8 522.8 206.5" fill="none" stroke="#1ee8d2" stroke-width="2.2" stroke-linejoin="round" stroke-linecap="round"/><path d="M524.0 147.2 521.7 147.2 519.5 147.2 517.2 147.2 514.9 147.2 512.7 147.2 510.4 147.1 508.1 147.1 505.9 147.1 503.6 147.0 501.3 147.0 499.1 147.0 496.8 146.9 494.6 146.9 492.3 146.9 490.0 146.9 487.8 146.9 485.5 146.9 483.2 146.9 481.0 147.0 478.7 147.0 476.4 147.1 474.2 147.2 471.9 147.4 469.6 147.5 467.4 147.7 465.1 147.9 462.9 148.1 460.6 148.2 458.4 148.4 456.1 148.6 453.8 148.7 451.6 148.9 449.3 149.0 447.1 149.2 444.8 149.3 442.5 149.5 440.3 149.6 438.0 149.7 435.8 149.9 433.5 150.0 431.2 150.2 429.0 150.3 426.7 150.5 424.5 150.7 422.2 150.8 419.9 151.0 417.7 151.2 415.4 151.4 413.2 151.6 410.9 151.8 408.7 152.0 406.4 152.3 404.1 152.5 401.9 152.8 399.7 153.0 397.4 153.4 395.2 153.7 392.9 154.0 390.7 154.4 388.5 154.8 386.2 155.1 384.0 155.5 381.8 156.0 379.5 156.4 377.3 156.8 375.1 157.2 372.9 157.7 370.6 158.1 368.4 158.6 366.2 159.0 364.0 159.4 361.8 159.9 359.5 160.3 357.3 160.7 355.1 161.1 352.8 161.4 350.6 161.8 348.4 162.2 346.1 162.6 343.9 163.1 341.7 163.7 339.5 164.2 337.4 164.9 335.2 165.5 333.1 166.3 331.0 167.1 329.0 168.2 327.1 169.4 325.2 170.8 323.5 172.2 321.7 173.5 319.7 174.7 317.9 176.0 316.2 177.5 314.6 179.1 313.1 180.9 311.8 182.7 311.0 184.8 310.5 187.0 310.7 189.3 311.3 191.4 312.1 193.6 313.2 195.6 314.6 197.3 316.3 198.8 318.1 200.2 319.8 201.6 321.8 202.7 323.9 203.6 326.0 204.5 328.1 205.4 330.1 206.3 332.2 207.2 334.3 208.1 336.4 209.0 338.5 209.8 340.6 210.6 342.8 211.3 345.0 211.9 347.1 212.5 349.3 213.0 351.6 213.5 353.8 214.0 356.0 214.4 358.2 214.7 360.5 215.1 362.7 215.3 365.0 215.6 367.2 215.8 369.5 215.9 371.8 216.0 374.0 216.2 376.3 216.3 378.6 216.4 380.8 216.5 383.1 216.7 385.3 216.8 387.6 216.9 389.9 217.1 392.1 217.2 394.4 217.3 396.6 217.4 398.9 217.5 401.2 217.6 403.4 217.7 405.7 217.8 408.0 218.0 410.2 218.1 412.5 218.2 414.7 218.2 417.0 218.2 419.3 218.0 421.5 217.8 423.8 217.5 426.0 217.2 428.2 216.8 430.5 216.3 432.7 215.8 434.9 215.3 437.1 214.8 439.3 214.3 441.5 213.8 443.7 213.3 445.9 212.8 448.1 212.3 450.4 211.9 452.6 211.4 454.8 210.9 457.0 210.4 459.2 209.9 461.4 209.4 463.6 208.9 465.8 208.4 468.0 207.9 470.3 207.4 472.5 206.9 474.7 206.4 476.9 205.9 479.1 205.4 481.3 204.9 483.5 204.4 485.7 203.9 487.9 203.3 490.1 202.8 492.3 202.2 494.5 201.6 496.7 201.0 498.8 200.4 501.0 199.7 503.2 199.1 505.3 198.4 507.5 197.7 509.7 197.0 511.8 196.3 514.0 195.7 516.2 195.2 518.4 194.7 520.6 194.3 522.9 194.0" fill="none" stroke="#00e050" stroke-width="2.2" stroke-linejoin="round" stroke-linecap="round"/><path d="M524.0 148.4 521.8 148.3 519.6 148.3 517.5 148.3 515.3 148.3 513.1 148.3 510.9 148.2 508.8 148.2 506.6 148.2 504.4 148.1 502.2 148.1 500.1 148.1 497.9 148.0 495.7 148.0 493.5 148.0 491.4 148.0 489.2 147.9 487.0 147.9 484.8 147.9 482.7 148.0 480.5 148.0 478.3 148.0 476.1 148.1 474.0 148.2 471.8 148.3 469.6 148.4 467.4 148.5 465.3 148.7 463.1 148.8 460.9 148.9 458.8 149.1 456.6 149.2 454.4 149.4 452.2 149.5 450.1 149.6 447.9 149.7 445.7 149.9 443.5 150.0 441.4 150.1 439.2 150.3 437.0 150.4 434.9 150.5 432.7 150.7 430.5 150.8 428.3 150.9 426.2 151.1 424.0 151.2 421.8 151.4 419.7 151.6 417.5 151.7 415.3 151.9 413.2 152.1 411.0 152.3 408.8 152.5 406.7 152.7 404.5 153.0 402.3 153.2 400.2 153.5 398.0 153.8 395.9 154.1 393.7 154.4 391.6 154.7 389.4 155.1 387.3 155.5 385.1 155.8 383.0 156.2 380.9 156.6 378.7 157.0 376.6 157.5 374.4 157.9 372.3 158.3 370.2 158.7 368.0 159.2 365.9 159.6 363.8 160.0 361.6 160.5 359.5 160.9 357.4 161.3 355.2 161.7 353.1 162.1 351.0 162.5 348.8 162.9 346.7 163.4 344.6 163.9 342.5 164.5 340.4 165.1 338.3 165.8 336.3 166.5 334.2 167.3 332.3 168.2 330.4 169.3 328.8 170.7 327.5 172.5 326.3 174.3 325.1 176.1 323.7 177.8 322.3 179.4 321.1 181.2 320.1 183.2 319.6 185.3 319.7 187.5 320.2 189.6 321.0 191.6 322.1 193.5 323.6 195.1 325.3 196.4 327.1 197.7 328.9 198.9 330.7 200.1 332.6 201.3 334.4 202.4 336.3 203.4 338.2 204.5 340.2 205.5 342.1 206.4 344.1 207.2 346.2 208.0 348.3 208.6 350.4 209.2 352.5 209.7 354.6 210.2 356.7 210.6 358.9 211.1 361.0 211.5 363.1 211.9 365.3 212.2 367.4 212.6 369.6 212.9 371.8 213.1 373.9 213.4 376.1 213.6 378.2 213.9 380.4 214.1 382.6 214.4 384.7 214.6 386.9 214.9 389.0 215.1 391.2 215.3 393.4 215.5 395.5 215.7 397.7 215.8 399.9 216.0 402.1 216.2 404.2 216.3 406.4 216.5 408.6 216.7 410.7 216.8 412.9 216.9 415.1 217.0 417.3 217.0 419.4 216.8 421.6 216.6 423.8 216.3 425.9 216.0 428.0 215.6 430.2 215.1 432.3 214.6 434.4 214.1 436.5 213.6 438.6 213.0 440.7 212.5 442.8 212.0 445.0 211.5 447.1 211.0 449.2 210.5 451.3 210.0 453.4 209.5 455.6 209.0 457.7 208.5 459.8 208.0 461.9 207.5 464.0 207.0 466.1 206.5 468.2 205.9 470.4 205.4 472.5 204.9 474.6 204.4 476.7 203.8 478.8 203.3 480.9 202.7 483.0 202.2 485.1 201.7 487.2 201.1 489.3 200.5 491.4 200.0 493.5 199.4 495.6 198.8 497.7 198.2 499.8 197.6 501.9 197.0 504.0 196.3 506.0 195.7 508.1 195.0 510.2 194.4 512.3 193.8 514.4 193.2 516.5 192.7 518.6 192.3 520.8 191.9 522.9 191.6" fill="none" stroke="#00a020" stroke-width="2.2" stroke-linejoin="round" stroke-linecap="round"/><path d="M524.0 150.4 521.8 150.4 519.6 150.3 517.4 150.3 515.3 150.3 513.1 150.3 510.9 150.2 508.7 150.2 506.5 150.2 504.3 150.1 502.1 150.1 500.0 150.1 497.8 150.0 495.6 150.0 493.4 150.0 491.2 150.0 489.0 149.9 486.8 149.9 484.7 149.9 482.5 149.9 480.3 149.9 478.1 149.9 475.9 149.9 473.7 149.9 471.5 149.9 469.4 150.0 467.2 150.0 465.0 150.0 462.8 150.1 460.6 150.2 458.4 150.2 456.2 150.3 454.1 150.4 451.9 150.5 449.7 150.6 447.5 150.7 445.3 150.8 443.1 150.9 441.0 151.0 438.8 151.1 436.6 151.2 434.4 151.3 432.2 151.4 430.0 151.5 427.9 151.6 425.7 151.7 423.5 151.9 421.3 152.0 419.1 152.2 417.0 152.3 414.8 152.5 412.6 152.6 410.4 152.8 408.2 153.0 406.1 153.2 403.9 153.5 401.7 153.7 399.5 154.0 397.4 154.3 395.2 154.6 393.1 154.9 390.9 155.2 388.7 155.6 386.6 156.0 384.4 156.4 382.3 156.8 380.1 157.2 378.0 157.6 375.9 158.1 373.7 158.5 371.6 159.0 369.4 159.4 367.3 159.9 365.2 160.3 363.0 160.8 360.9 161.2 358.7 161.6 356.6 162.1 354.4 162.5 352.3 162.9 350.2 163.3 348.0 163.7 345.9 164.2 343.8 164.8 341.7 165.4 339.6 166.1 337.5 166.8 335.5 167.6 333.5 168.5 331.5 169.5 329.7 170.6 328.0 172.0 326.4 173.5 325.0 175.2 323.7 176.9 322.4 178.7 321.1 180.4 319.6 182.1 318.6 184.0 318.2 186.1 318.4 188.3 319.1 190.4 320.2 192.2 321.6 194.0 322.9 195.7 324.1 197.5 325.6 199.1 327.3 200.4 329.2 201.5 331.2 202.5 333.1 203.5 335.1 204.4 337.1 205.2 339.2 206.1 341.2 206.9 343.2 207.7 345.3 208.4 347.3 209.2 349.4 209.9 351.5 210.6 353.6 211.2 355.7 211.8 357.8 212.4 359.9 213.0 362.0 213.5 364.1 214.0 366.3 214.5 368.4 215.0 370.5 215.4 372.7 215.8 374.8 216.2 377.0 216.5 379.2 216.9 381.3 217.2 383.5 217.4 385.7 217.7 387.8 217.9 390.0 218.0 392.2 218.2 394.4 218.4 396.6 218.5 398.7 218.6 400.9 218.8 403.1 218.9 405.3 219.1 407.5 219.3 409.6 219.4 411.8 219.6 414.0 219.6 416.2 219.6 418.4 219.6 420.6 219.4 422.7 219.2 424.9 218.9 427.1 218.6 429.2 218.2 431.3 217.7 433.5 217.3 435.6 216.8 437.8 216.3 439.9 215.9 442.0 215.4 444.2 215.0 446.3 214.6 448.5 214.2 450.6 213.8 452.8 213.4 454.9 213.0 457.1 212.6 459.2 212.2 461.4 211.7 463.5 211.3 465.6 210.9 467.8 210.5 469.9 210.0 472.1 209.5 474.2 209.1 476.3 208.6 478.5 208.1 480.6 207.6 482.7 207.1 484.8 206.6 487.0 206.1 489.1 205.5 491.2 205.0 493.3 204.4 495.4 203.9 497.5 203.3 499.6 202.7 501.7 202.1 503.8 201.5 505.9 200.8 508.0 200.2 510.1 199.6 512.2 199.0 514.3 198.4 516.5 197.9 518.6 197.5 520.8 197.1 522.9 196.8" fill="none" stroke="#40e800" stroke-width="2.2" stroke-linejoin="round" stroke-linecap="round" stroke-dasharray="3.6 3.4"/><path d="M524.0 152.4 521.9 152.4 519.8 152.3 517.6 152.2 515.5 152.2 513.4 152.1 511.3 152.1 509.1 152.0 507.0 151.9 504.9 151.9 502.8 151.8 500.6 151.7 498.5 151.7 496.4 151.6 494.3 151.6 492.1 151.5 490.0 151.4 487.9 151.4 485.8 151.3 483.6 151.3 481.5 151.2 479.4 151.2 477.3 151.1 475.1 151.1 473.0 151.0 470.9 151.0 468.8 151.0 466.6 150.9 464.5 150.9 462.4 150.9 460.3 150.9 458.1 151.0 456.0 151.0 453.9 151.1 451.8 151.1 449.6 151.2 447.5 151.2 445.4 151.3 443.3 151.4 441.2 151.4 439.0 151.5 436.9 151.6 434.8 151.7 432.7 151.8 430.5 151.9 428.4 152.0 426.3 152.1 424.2 152.2 422.0 152.3 419.9 152.5 417.8 152.6 415.7 152.7 413.6 152.9 411.4 153.0 409.3 153.2 407.2 153.4 405.1 153.6 403.0 153.9 400.9 154.1 398.8 154.4 396.7 154.7 394.6 155.0 392.5 155.3 390.4 155.6 388.3 156.0 386.2 156.4 384.1 156.8 382.0 157.2 379.9 157.6 377.8 158.1 375.8 158.5 373.7 159.0 371.6 159.4 369.5 159.9 367.5 160.3 365.4 160.8 363.3 161.3 361.2 161.7 359.2 162.2 357.1 162.6 355.0 163.0 352.9 163.4 350.8 163.8 348.7 164.2 346.7 164.7 344.7 165.3 342.7 166.1 340.7 167.0 338.9 168.0 337.0 169.1 335.2 170.2 333.5 171.4 331.8 172.7 330.1 174.0 328.5 175.4 327.1 177.0 325.8 178.7 324.6 180.4 323.7 182.3 323.2 184.4 323.4 186.5 324.0 188.5 324.9 190.5 326.4 192.0 327.9 193.4 329.6 194.8 331.3 196.0 333.1 197.2 334.8 198.4 336.6 199.6 338.4 200.7 340.3 201.7 342.2 202.7 344.1 203.6 346.1 204.4 348.1 205.1 350.1 205.7 352.2 206.2 354.2 206.7 356.3 207.2 358.4 207.6 360.5 208.1 362.5 208.5 364.6 208.9 366.7 209.3 368.8 209.6 370.9 209.9 373.0 210.2 375.1 210.5 377.3 210.7 379.4 210.9 381.5 211.1 383.6 211.3 385.7 211.5 387.8 211.7 390.0 211.8 392.1 211.9 394.2 212.0 396.3 212.0 398.4 212.0 400.6 212.0 402.7 211.9 404.8 211.8 406.9 211.6 409.1 211.4 411.2 211.2 413.3 210.9 415.4 210.6 417.5 210.4 419.6 210.1 421.7 209.7 423.8 209.4 425.9 209.0 428.0 208.7 430.1 208.3 432.1 207.9 434.2 207.5 436.3 207.0 438.4 206.6 440.5 206.2 442.6 205.8 444.7 205.4 446.7 205.0 448.8 204.5 450.9 204.1 453.0 203.7 455.1 203.3 457.2 202.9 459.2 202.5 461.3 202.0 463.4 201.6 465.5 201.2 467.6 200.7 469.6 200.3 471.7 199.8 473.8 199.4 475.9 199.0 478.0 198.5 480.0 198.1 482.1 197.6 484.2 197.2 486.3 196.7 488.3 196.2 490.4 195.7 492.4 195.2 494.5 194.6 496.5 194.0 498.6 193.4 500.6 192.7 502.6 192.1 504.6 191.3 506.6 190.6 508.6 189.9 510.6 189.2 512.6 188.5 514.6 187.9 516.7 187.3 518.8 186.9 520.9 186.5 523.0 186.1" fill="none" stroke="#d8f000" stroke-width="2.2" stroke-linejoin="round" stroke-linecap="round" stroke-dasharray="10.4 3.2"/><path d="M524.0 153.3 521.9 153.2 519.8 153.1 517.7 153.1 515.6 153.0 513.5 152.9 511.3 152.8 509.2 152.7 507.1 152.7 505.0 152.6 502.9 152.5 500.8 152.4 498.7 152.3 496.6 152.2 494.5 152.2 492.4 152.1 490.3 152.0 488.2 151.9 486.0 151.9 483.9 151.8 481.8 151.7 479.7 151.7 477.6 151.6 475.5 151.6 473.4 151.5 471.3 151.5 469.2 151.4 467.1 151.4 464.9 151.3 462.8 151.3 460.7 151.4 458.6 151.4 456.5 151.4 454.4 151.5 452.3 151.5 450.2 151.5 448.1 151.6 446.0 151.6 443.9 151.7 441.7 151.8 439.6 151.8 437.5 151.9 435.4 152.0 433.3 152.0 431.2 152.1 429.1 152.2 427.0 152.3 424.9 152.4 422.8 152.5 420.7 152.6 418.6 152.8 416.4 152.9 414.3 153.1 412.2 153.2 410.1 153.4 408.0 153.6 405.9 153.7 403.8 154.0 401.7 154.2 399.6 154.4 397.5 154.7 395.5 155.0 393.4 155.4 391.3 155.7 389.2 156.1 387.1 156.4 385.1 156.8 383.0 157.2 380.9 157.7 378.9 158.1 376.8 158.6 374.7 159.0 372.7 159.5 370.6 159.9 368.6 160.4 366.5 160.9 364.5 161.4 362.4 161.8 360.3 162.3 358.3 162.8 356.2 163.2 354.2 163.6 352.1 164.0 350.0 164.5 348.0 165.0 345.9 165.6 343.9 166.3 342.0 167.1 340.1 168.1 338.3 169.1 336.5 170.3 334.8 171.5 333.1 172.8 331.5 174.1 329.9 175.4 328.4 176.9 327.0 178.5 325.8 180.3 325.0 182.2 324.6 184.3 324.8 186.3 325.5 188.3 326.6 190.2 328.0 191.7 329.6 193.2 331.2 194.5 332.8 195.8 334.5 197.1 336.2 198.3 338.0 199.5 339.8 200.6 341.6 201.7 343.5 202.6 345.4 203.4 347.4 204.2 349.4 204.8 351.5 205.4 353.5 205.9 355.6 206.3 357.6 206.8 359.7 207.2 361.7 207.7 363.8 208.1 365.9 208.5 368.0 208.9 370.1 209.2 372.1 209.5 374.2 209.8 376.3 210.1 378.4 210.3 380.5 210.6 382.6 210.8 384.7 211.0 386.8 211.1 388.9 211.3 391.0 211.4 393.1 211.5 395.2 211.6 397.4 211.6 399.5 211.6 401.6 211.5 403.7 211.4 405.8 211.3 407.9 211.1 410.0 210.9 412.1 210.6 414.2 210.3 416.3 210.0 418.3 209.7 420.4 209.4 422.5 209.1 424.6 208.8 426.7 208.4 428.8 208.0 430.8 207.6 432.9 207.2 435.0 206.8 437.0 206.4 439.1 206.0 441.2 205.6 443.2 205.2 445.3 204.7 447.4 204.3 449.5 203.9 451.5 203.5 453.6 203.1 455.7 202.6 457.7 202.2 459.8 201.7 461.8 201.3 463.9 200.9 466.0 200.4 468.0 199.9 470.1 199.5 472.1 199.0 474.2 198.6 476.3 198.1 478.3 197.6 480.4 197.2 482.4 196.7 484.5 196.2 486.5 195.7 488.6 195.2 490.6 194.7 492.7 194.1 494.7 193.6 496.7 193.0 498.7 192.3 500.7 191.7 502.7 191.0 504.7 190.3 506.7 189.6 508.7 188.9 510.7 188.2 512.7 187.5 514.7 186.9 516.7 186.3 518.8 185.9 520.9 185.5 523.0 185.1" fill="none" stroke="#ffa500" stroke-width="2.2" stroke-linejoin="round" stroke-linecap="round" stroke-dasharray="12.0 4.5"/><path d="M524.0 154.1 521.9 154.0 519.8 154.0 517.7 153.9 515.6 153.8 513.5 153.7 511.5 153.6 509.4 153.5 507.3 153.4 505.2 153.3 503.1 153.2 501.0 153.1 498.9 153.0 496.8 152.9 494.7 152.8 492.6 152.8 490.5 152.7 488.5 152.6 486.4 152.5 484.3 152.4 482.2 152.4 480.1 152.3 478.0 152.2 475.9 152.2 473.8 152.1 471.7 152.1 469.6 152.0 467.5 152.0 465.4 151.9 463.3 151.9 461.3 151.9 459.2 152.0 457.1 152.0 455.0 152.0 452.9 152.1 450.8 152.1 448.7 152.2 446.6 152.2 444.5 152.3 442.4 152.3 440.3 152.4 438.2 152.5 436.1 152.5 434.1 152.6 432.0 152.7 429.9 152.8 427.8 152.9 425.7 153.0 423.6 153.1 421.5 153.2 419.4 153.3 417.3 153.4 415.2 153.6 413.2 153.7 411.1 153.9 409.0 154.1 406.9 154.3 404.8 154.5 402.7 154.7 400.7 154.9 398.6 155.2 396.5 155.5 394.4 155.8 392.4 156.1 390.3 156.5 388.2 156.8 386.2 157.2 384.1 157.6 382.1 158.0 380.0 158.4 378.0 158.8 375.9 159.3 373.9 159.7 371.8 160.2 369.8 160.7 367.8 161.1 365.7 161.6 363.7 162.1 361.6 162.5 359.6 163.0 357.6 163.4 355.5 163.8 353.4 164.2 351.4 164.7 349.3 165.1 347.3 165.6 345.3 166.2 343.4 167.0 341.5 167.9 339.7 169.0 338.0 170.2 336.3 171.5 334.8 172.8 333.2 174.2 331.6 175.6 330.1 177.0 328.6 178.6 327.5 180.3 326.7 182.2 326.4 184.3 326.6 186.4 327.3 188.3 328.4 190.1 329.8 191.7 331.3 193.1 332.8 194.5 334.4 195.8 336.1 197.1 337.8 198.4 339.5 199.6 341.3 200.7 343.1 201.7 345.0 202.5 347.0 203.2 349.0 203.9 351.0 204.4 353.0 204.9 355.1 205.4 357.1 205.9 359.2 206.3 361.2 206.8 363.3 207.2 365.3 207.6 367.4 208.0 369.4 208.3 371.5 208.7 373.6 209.0 375.6 209.2 377.7 209.5 379.8 209.8 381.9 210.0 384.0 210.3 386.0 210.5 388.1 210.7 390.2 210.9 392.3 211.0 394.4 211.1 396.5 211.2 398.6 211.2 400.7 211.2 402.7 211.1 404.8 211.0 406.9 210.8 409.0 210.5 411.1 210.3 413.2 210.0 415.2 209.7 417.3 209.4 419.4 209.1 421.4 208.8 423.5 208.4 425.6 208.1 427.6 207.7 429.7 207.3 431.7 206.9 433.8 206.5 435.8 206.1 437.9 205.7 439.9 205.2 442.0 204.8 444.0 204.4 446.1 204.0 448.1 203.6 450.2 203.2 452.2 202.8 454.3 202.3 456.3 201.9 458.4 201.5 460.4 201.1 462.5 200.7 464.5 200.2 466.6 199.8 468.6 199.3 470.7 198.8 472.7 198.4 474.7 197.9 476.8 197.4 478.8 196.9 480.9 196.5 482.9 196.0 484.9 195.4 486.9 194.9 489.0 194.4 491.0 193.8 493.0 193.3 495.0 192.7 497.0 192.1 499.0 191.4 501.0 190.7 503.0 190.0 504.9 189.3 506.9 188.6 508.8 187.9 510.8 187.2 512.8 186.5 514.8 185.9 516.8 185.3 518.9 184.8 520.9 184.5 523.0 184.1" fill="none" stroke="#ff5000" stroke-width="2.2" stroke-linejoin="round" stroke-linecap="round" stroke-dasharray="3.3 5.0"/><path d="M524.0 155.1 521.9 155.0 519.9 155.0 517.8 154.9 515.7 154.8 513.6 154.7 511.6 154.6 509.5 154.5 507.4 154.4 505.3 154.3 503.3 154.2 501.2 154.1 499.1 154.0 497.1 153.9 495.0 153.9 492.9 153.8 490.8 153.7 488.8 153.6 486.7 153.5 484.6 153.4 482.5 153.4 480.5 153.3 478.4 153.3 476.3 153.2 474.3 153.1 472.2 153.1 470.1 153.0 468.0 153.0 466.0 153.0 463.9 152.9 461.8 152.9 459.7 153.0 457.7 153.0 455.6 153.0 453.5 153.1 451.4 153.1 449.4 153.1 447.3 153.2 445.2 153.2 443.1 153.3 441.1 153.3 439.0 153.4 436.9 153.5 434.8 153.5 432.8 153.6 430.7 153.7 428.6 153.7 426.6 153.8 424.5 153.9 422.4 154.0 420.3 154.1 418.3 154.3 416.2 154.4 414.1 154.5 412.1 154.7 410.0 154.8 407.9 155.0 405.9 155.2 403.8 155.4 401.7 155.6 399.7 155.8 397.6 156.1 395.6 156.4 393.5 156.7 391.5 157.0 389.4 157.4 387.4 157.7 385.3 158.1 383.3 158.5 381.3 158.9 379.2 159.3 377.2 159.7 375.2 160.2 373.1 160.6 371.1 161.1 369.1 161.5 367.1 162.0 365.0 162.5 363.0 162.9 361.0 163.4 359.0 163.8 356.9 164.2 354.9 164.6 352.9 165.0 350.8 165.4 348.8 165.9 346.8 166.4 344.8 167.0 342.9 167.9 341.1 168.9 339.5 170.1 337.9 171.5 336.4 172.9 335.0 174.4 333.5 175.9 332.0 177.3 330.5 178.7 329.2 180.4 328.4 182.3 328.1 184.3 328.3 186.4 329.1 188.3 330.3 190.0 331.7 191.5 333.2 193.0 334.7 194.4 336.2 195.8 337.8 197.1 339.4 198.4 341.2 199.5 342.9 200.6 344.8 201.4 346.8 202.2 348.7 202.8 350.7 203.4 352.8 203.9 354.8 204.3 356.8 204.8 358.8 205.2 360.9 205.7 362.9 206.2 364.9 206.6 366.9 207.0 369.0 207.4 371.0 207.8 373.1 208.1 375.1 208.5 377.1 208.8 379.2 209.1 381.3 209.4 383.3 209.6 385.4 209.9 387.4 210.1 389.5 210.3 391.6 210.5 393.6 210.6 395.7 210.7 397.8 210.8 399.9 210.8 401.9 210.7 404.0 210.6 406.1 210.4 408.1 210.2 410.2 210.0 412.2 209.7 414.3 209.4 416.3 209.1 418.4 208.8 420.4 208.4 422.5 208.1 424.5 207.7 426.6 207.3 428.6 206.9 430.6 206.5 432.7 206.1 434.7 205.7 436.7 205.2 438.8 204.8 440.8 204.4 442.8 204.0 444.9 203.5 446.9 203.1 448.9 202.7 450.9 202.3 453.0 201.9 455.0 201.5 457.0 201.1 459.1 200.6 461.1 200.2 463.1 199.8 465.2 199.3 467.2 198.9 469.2 198.4 471.2 197.9 473.2 197.4 475.2 196.9 477.3 196.4 479.3 195.8 481.3 195.3 483.3 194.7 485.3 194.2 487.2 193.6 489.2 193.0 491.2 192.4 493.2 191.8 495.2 191.2 497.2 190.6 499.2 190.0 501.1 189.3 503.1 188.6 505.0 187.9 507.0 187.2 508.9 186.5 510.9 185.9 512.9 185.2 514.9 184.6 516.9 184.1 518.9 183.6 520.9 183.3 523.0 182.9" fill="none" stroke="#ff1010" stroke-width="2.2" stroke-linejoin="round" stroke-linecap="round" stroke-dasharray="5.4 4.9"/><path d="M524.0 156.2 521.9 156.1 519.9 156.0 517.8 155.9 515.8 155.8 513.7 155.7 511.7 155.6 509.6 155.5 507.6 155.4 505.5 155.3 503.5 155.2 501.4 155.1 499.3 155.0 497.3 154.9 495.2 154.8 493.2 154.7 491.1 154.6 489.1 154.6 487.0 154.5 485.0 154.4 482.9 154.3 480.9 154.2 478.8 154.2 476.7 154.1 474.7 154.0 472.6 153.9 470.6 153.9 468.5 153.8 466.5 153.7 464.4 153.7 462.3 153.7 460.3 153.7 458.2 153.7 456.2 153.7 454.1 153.7 452.1 153.8 450.0 153.8 448.0 153.9 445.9 153.9 443.8 153.9 441.8 154.0 439.7 154.0 437.7 154.1 435.6 154.2 433.6 154.2 431.5 154.3 429.4 154.4 427.4 154.5 425.3 154.6 423.3 154.7 421.2 154.8 419.2 154.9 417.1 155.0 415.1 155.2 413.0 155.3 411.0 155.4 408.9 155.6 406.9 155.8 404.8 156.0 402.8 156.2 400.7 156.4 398.7 156.7 396.7 156.9 394.6 157.2 392.6 157.6 390.6 157.9 388.5 158.2 386.5 158.6 384.5 159.0 382.5 159.4 380.4 159.8 378.4 160.2 376.4 160.6 374.4 161.0 372.4 161.5 370.4 161.9 368.4 162.4 366.4 162.8 364.4 163.3 362.4 163.8 360.4 164.2 358.4 164.7 356.3 165.1 354.3 165.4 352.3 165.8 350.3 166.2 348.3 166.6 346.3 167.2 344.3 167.9 342.5 168.8 340.8 169.9 339.3 171.3 337.9 172.8 336.6 174.4 335.2 176.0 333.8 177.4 332.3 178.8 331.1 180.5 330.2 182.4 329.9 184.4 330.1 186.4 330.9 188.3 332.0 190.0 333.4 191.5 334.9 193.0 336.3 194.5 337.8 195.9 339.4 197.2 341.0 198.4 342.8 199.5 344.6 200.4 346.6 201.1 348.5 201.8 350.5 202.3 352.5 202.8 354.5 203.3 356.5 203.8 358.5 204.2 360.5 204.7 362.5 205.2 364.5 205.6 366.5 206.1 368.5 206.5 370.5 206.9 372.6 207.3 374.6 207.6 376.6 208.0 378.7 208.3 380.7 208.6 382.7 208.9 384.8 209.2 386.8 209.5 388.8 209.7 390.9 209.9 392.9 210.1 395.0 210.3 397.0 210.4 399.1 210.4 401.1 210.4 403.2 210.2 405.3 210.1 407.3 209.8 409.3 209.6 411.4 209.3 413.4 208.9 415.4 208.6 417.5 208.2 419.5 207.9 421.5 207.5 423.5 207.2 425.6 206.8 427.6 206.4 429.6 206.0 431.6 205.6 433.6 205.2 435.6 204.8 437.6 204.3 439.7 203.9 441.7 203.5 443.7 203.1 445.7 202.7 447.7 202.2 449.7 201.8 451.7 201.4 453.8 201.0 455.8 200.6 457.8 200.2 459.8 199.8 461.8 199.4 463.8 199.0 465.8 198.5 467.8 198.0 469.8 197.5 471.8 197.0 473.8 196.5 475.8 195.9 477.8 195.4 479.7 194.8 481.7 194.2 483.7 193.6 485.6 193.0 487.6 192.3 489.6 191.7 491.5 191.1 493.5 190.5 495.4 189.9 497.4 189.2 499.4 188.6 501.3 187.9 503.2 187.2 505.2 186.5 507.1 185.9 509.1 185.2 511.0 184.5 513.0 183.9 514.9 183.3 516.9 182.8 518.9 182.3 521.0 182.0 523.0 181.6" fill="none" stroke="#e0102a" stroke-width="2.2" stroke-linejoin="round" stroke-linecap="round" stroke-dasharray="8.0 8.5"/></g><rect x="73.00" y="31.60" width="444.00" height="271.40" fill="none" stroke="#000" stroke-width="1.6"/><path d="M64.40 303.00H73.00M64.40 253.65H73.00M64.40 204.31H73.00M64.40 154.96H73.00M64.40 105.62H73.00M64.40 56.27H73.00M73.00 303.00V311.70M147.00 303.00V311.70M221.00 303.00V311.70M295.00 303.00V311.70M369.00 303.00V311.70M443.00 303.00V311.70M517.00 303.00V311.70" stroke="#000" stroke-width="1.6" fill="none"/><g font-family="Liberation Sans, sans-serif" font-size="22.5" fill="#000"><text x="50.00" y="311.45" text-anchor="end">0°</text><text x="50.70" y="262.10" text-anchor="end">10°N</text><text x="50.70" y="212.76" text-anchor="end">20°N</text><text x="50.70" y="163.41" text-anchor="end">30°N</text><text x="50.70" y="114.07" text-anchor="end">40°N</text><text x="50.70" y="64.72" text-anchor="end">50°N</text><text x="73.30" y="343.50" text-anchor="middle">90°E</text><text x="147.30" y="343.50" text-anchor="middle">105°E</text><text x="221.30" y="343.50" text-anchor="middle">120°E</text><text x="295.30" y="343.50" text-anchor="middle">135°E</text><text x="369.30" y="343.50" text-anchor="middle">150°E</text><text x="443.30" y="343.50" text-anchor="middle">165°E</text><text x="517.30" y="343.50" text-anchor="middle">180°</text></g><text x="295" y="14.8" font-family="Liberation Sans, sans-serif" font-size="17.5" text-anchor="middle">JJA 5880-gpm distribution</text><text x="518.2" y="14.6" font-family="Liberation Sans, sans-serif" font-size="17.5" text-anchor="end">gpm</text><g font-family="Liberation Serif, serif" font-weight="bold" font-size="14.00" fill="#000"><line x1="46.7" y1="362.7" x2="101.7" y2="362.7" stroke="#000000" stroke-width="3.0" stroke-linecap="round"/><text x="108.33" y="367.50">N</text><text x="117.22" y="367.50">C</text><text x="125.46" y="367.50">E</text><text x="134.46" y="367.50">P</text><text x="142.83" y="367.50">I</text><text x="147.03" y="367.50">I</text><line x1="158.5" y1="362.7" x2="213.5" y2="362.7" stroke="#2e0c40" stroke-width="3.0" stroke-linecap="round" stroke-dasharray="6.0 4.4"/><text x="221.66" y="367.50">L</text><text x="227.98" y="367.50">T</text><text x="236.45" y="367.50">:</text><text transform="translate(246.95 367.50) scale(1.100 1)">0</text><text transform="translate(254.53 367.50) scale(1.100 1)">1</text><line x1="270.4" y1="362.7" x2="325.4" y2="362.7" stroke="#4a1470" stroke-width="3.0" stroke-linecap="round" stroke-dasharray="1.6 3.5"/><text x="333.76" y="367.50">L</text><text x="340.08" y="367.50">T</text><text x="348.55" y="367.50">:</text><text transform="translate(359.05 367.50) scale(1.100 1)">0</text><text transform="translate(366.86 367.50) scale(1.100 1)">2</text><line x1="382.2" y1="362.7" x2="437.2" y2="362.7" stroke="#4b10a8" stroke-width="3.0" stroke-linecap="round" stroke-dasharray="6.7 4.9 0.6 4.9"/><text x="445.76" y="367.50">L</text><text x="452.08" y="367.50">T</text><text x="460.55" y="367.50">:</text><text transform="translate(471.05 367.50) scale(1.100 1)">0</text><text transform="translate(478.82 367.50) scale(1.100 1)">3</text><line x1="46.7" y1="373.8" x2="101.7" y2="373.8" stroke="#2a22d8" stroke-width="3.0" stroke-linecap="round" stroke-dasharray="6.8 2.8 5.4 2.8"/><text x="109.36" y="378.50">L</text><text x="115.68" y="378.50">T</text><text x="124.15" y="378.50">:</text><text transform="translate(134.65 378.50) scale(1.100 1)">0</text><text transform="translate(142.49 378.50) scale(1.100 1)">4</text><line x1="158.5" y1="373.8" x2="213.5" y2="373.8" stroke="#0a14f5" stroke-width="3.0" stroke-linecap="round"/><text x="221.66" y="378.50">L</text><text x="227.98" y="378.50">T</text><text x="236.45" y="378.50">:</text><text transform="translate(246.95 378.50) scale(1.100 1)">0</text><text transform="translate(254.72 378.50) scale(1.100 1)">5</text><line x1="270.4" y1="373.8" x2="325.4" y2="373.8" stroke="#1478ff" stroke-width="3.0" stroke-linecap="round"/><text x="333.76" y="378.50">L</text><text x="340.08" y="378.50">T</text><text x="348.55" y="378.50">:</text><text transform="translate(359.05 378.50) scale(1.100 1)">0</text><text transform="translate(366.81 378.50) scale(1.100 1)">6</text><line x1="382.2" y1="373.8" x2="437.2" y2="373.8" stroke="#00c8f5" stroke-width="3.0" stroke-linecap="round"/><text x="445.76" y="378.50">L</text><text x="452.08" y="378.50">T</text><text x="460.55" y="378.50">:</text><text transform="translate(471.05 378.50) scale(1.100 1)">0</text><text transform="translate(478.60 378.50) scale(1.100 1)">7</text><line x1="46.7" y1="384.9" x2="101.7" y2="384.9" stroke="#1ee8d2" stroke-width="3.0" stroke-linecap="round"/><text x="109.36" y="389.50">L</text><text x="115.68" y="389.50">T</text><text x="124.15" y="389.50">:</text><text transform="translate(134.65 389.50) scale(1.100 1)">0</text><text transform="translate(142.45 389.50) scale(1.100 1)">8</text><line x1="158.5" y1="384.9" x2="213.5" y2="384.9" stroke="#00e050" stroke-width="3.0" stroke-linecap="round"/><text x="221.66" y="389.50">L</text><text x="227.98" y="389.50">T</text><text x="236.45" y="389.50">:</text><text transform="translate(246.95 389.50) scale(1.100 1)">0</text><text transform="translate(254.82 389.50) scale(1.100 1)">9</text><line x1="270.4" y1="384.9" x2="325.4" y2="384.9" stroke="#00a020" stroke-width="3.0" stroke-linecap="round"/><text x="333.76" y="389.50">L</text><text x="340.08" y="389.50">T</text><text x="348.55" y="389.50">:</text><text transform="translate(358.83 389.50) scale(1.100 1)">1</text><text transform="translate(366.85 389.50) scale(1.100 1)">0</text><line x1="382.2" y1="384.9" x2="437.2" y2="384.9" stroke="#40e800" stroke-width="3.0" stroke-linecap="round" stroke-dasharray="3.6 3.4"/><text x="445.76" y="389.50">L</text><text x="452.08" y="389.50">T</text><text x="460.55" y="389.50">:</text><text transform="translate(470.83 389.50) scale(1.100 1)">1</text><text transform="translate(478.63 389.50) scale(1.100 1)">1</text><line x1="46.7" y1="396.0" x2="101.7" y2="396.0" stroke="#d8f000" stroke-width="3.0" stroke-linecap="round" stroke-dasharray="10.4 3.2"/><text x="109.36" y="400.50">L</text><text x="115.68" y="400.50">T</text><text x="124.15" y="400.50">:</text><text transform="translate(134.43 400.50) scale(1.100 1)">1</text><text transform="translate(142.46 400.50) scale(1.100 1)">2</text><line x1="158.5" y1="396.0" x2="213.5" y2="396.0" stroke="#ffa500" stroke-width="3.0" stroke-linecap="round" stroke-dasharray="12.0 4.5"/><text x="221.66" y="400.50">L</text><text x="227.98" y="400.50">T</text><text x="236.45" y="400.50">:</text><text transform="translate(246.73 400.50) scale(1.100 1)">1</text><text transform="translate(254.72 400.50) scale(1.100 1)">3</text><line x1="270.4" y1="396.0" x2="325.4" y2="396.0" stroke="#ff5000" stroke-width="3.0" stroke-linecap="round" stroke-dasharray="3.3 5.0"/><text x="333.76" y="400.50">L</text><text x="340.08" y="400.50">T</text><text x="348.55" y="400.50">:</text><text transform="translate(358.83 400.50) scale(1.100 1)">1</text><text transform="translate(366.89 400.50) scale(1.100 1)">4</text><line x1="382.2" y1="396.0" x2="437.2" y2="396.0" stroke="#ff1010" stroke-width="3.0" stroke-linecap="round" stroke-dasharray="5.4 4.9"/><text x="445.76" y="400.50">L</text><text x="452.08" y="400.50">T</text><text x="460.55" y="400.50">:</text><text transform="translate(470.83 400.50) scale(1.100 1)">1</text><text transform="translate(478.82 400.50) scale(1.100 1)">5</text><line x1="46.7" y1="407.1" x2="101.7" y2="407.1" stroke="#e0102a" stroke-width="3.0" stroke-linecap="round" stroke-dasharray="8.0 8.5"/><text x="109.36" y="411.50">L</text><text x="115.68" y="411.50">T</text><text x="124.15" y="411.50">:</text><text transform="translate(134.43 411.50) scale(1.100 1)">1</text><text transform="translate(142.41 411.50) scale(1.100 1)">6</text></g></svg></body></html>
